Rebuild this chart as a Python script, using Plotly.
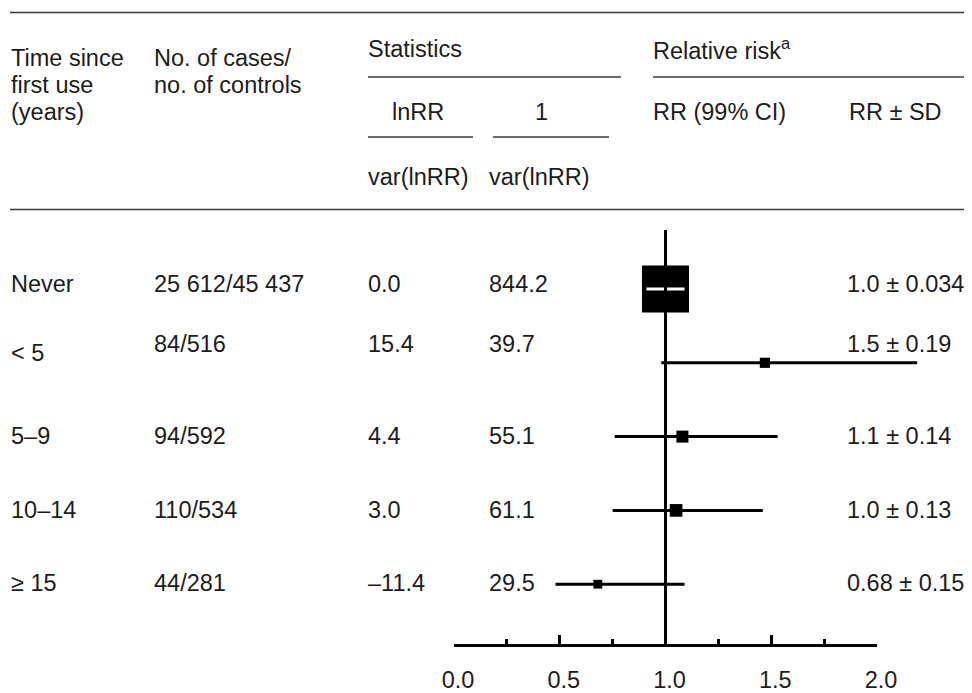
import math
import plotly.graph_objects as go

# ---------------- data ----------------
time_labels = ["Never", "< 5", "5–9", "10–14", "≥ 15"]
cases_controls = ["25 612/45 437", "84/516", "94/592", "110/534", "44/281"]
lnrr_over_var = ["0.0", "15.4", "4.4", "3.0", "–11.4"]
inv_var_text = ["844.2", "39.7", "55.1", "61.1", "29.5"]
inv_var = [844.2, 39.7, 55.1, 61.1, 29.5]
rr_sd_text = ["1.0 ± 0.034", "1.5 ± 0.19", "1.1 ± 0.14", "1.0 ± 0.13", "0.68 ± 0.15"]

rr_point = [1.00, 1.47, 1.08, 1.05, 0.68]
ci_low = [0.91, 0.98, 0.76, 0.75, 0.48]
ci_high = [1.09, 2.19, 1.53, 1.46, 1.09]

axis_ticks = [0.0, 0.5, 1.0, 1.5, 2.0]
axis_ticktext = ["0.0", "0.5", "1.0", "1.5", "2.0"]
axis_minor = [0.25, 0.75, 1.25, 1.75]

# ---------------- layout constants ----------------
W, H = 972, 693
OFF = 8                          # page offset of the plot div
FONT = "Liberation Sans, Arial, Helvetica, sans-serif"
TXT = "#1c1c1c"
FS = 23.5

X0PX, X2PX = 454, 877            # page pixel of RR=0 and RR=2
SCALE = (X2PX - X0PX) / 2.0
ROW0PX, ROWSTEP = 289, 73.8      # page pixel of first row and row spacing
AXIS_Y = 645
VLINE_TOP = 230


def px(x):
    return (x - OFF) / W


def py(y):
    return 1 - (y - OFF) / H


rows = list(range(len(time_labels)))

fig = go.Figure()

# CI lines (black), rows 1..4
for i in rows[1:]:
    fig.add_trace(go.Scatter(x=[ci_low[i], ci_high[i]], y=[i, i], mode="lines",
                             line=dict(color="black", width=3),
                             showlegend=False, hoverinfo="skip"))

# squares sized by weight
sizes = [1.62 * math.sqrt(w) for w in inv_var]
fig.add_trace(go.Scatter(x=rr_point, y=rows, mode="markers",
                         marker=dict(symbol="square", size=sizes, color="black",
                                     opacity=1, line=dict(width=0)),
                         showlegend=False, hoverinfo="skip"))

# Never row CI drawn in white inside its box
fig.add_trace(go.Scatter(x=[ci_low[0], ci_high[0]], y=[0, 0], mode="lines",
                         line=dict(color="white", width=3),
                         showlegend=False, hoverinfo="skip"))

# bottom axis carrier trace
fig.add_trace(go.Scatter(x=[0, 2], y=[None, None], xaxis="x2", yaxis="y",
                         mode="markers", showlegend=False, hoverinfo="skip"))

shapes = []
# reference line at RR = 1
shapes.append(dict(type="line", xref="x", yref="paper", x0=1.0, x1=1.0,
                   y0=py(AXIS_Y), y1=py(VLINE_TOP),
                   line=dict(color="black", width=3), layer="above"))


def rule(x0, x1, y):
    shapes.append(dict(type="line", xref="paper", yref="paper",
                       x0=px(x0), x1=px(x1), y0=py(y), y1=py(y),
                       line=dict(color="#3a3a3a", width=1.3)))


rule(10, 980, 12.5)
rule(10, 980, 209.5)
rule(368, 621, 77)
rule(653, 980, 77)
rule(368, 473, 137)
rule(493, 609, 137)

ann = []


def text(x, y, s, anchor="left", size=FS):
    ann.append(dict(x=px(x), y=py(y), xref="paper", yref="paper", text=s,
                    showarrow=False, xanchor=anchor, yanchor="middle",
                    font=dict(family=FONT, size=size, color=TXT)))


# header
text(9, 58, "Time since")
text(9, 85, "first use")
text(9, 112, "(years)")
text(152, 58, "No. of cases/")
text(152, 85, "no. of controls")
text(366, 49, "Statistics")
text(651, 49, "Relative risk<sup>a</sup>")
text(418, 112, "lnRR", anchor="center")
text(541, 112, "1", anchor="center")
text(366, 177, "var(lnRR)")
text(487, 177, "var(lnRR)")
text(651, 112, "RR (99% CI)")
text(847, 112, "RR ± SD")

# body rows
row_text_y = [284, 344, 436, 510, 583]
label_y = [284, 353, 436, 510, 583]
for i in rows:
    text(9, label_y[i], time_labels[i])
    text(152, row_text_y[i], cases_controls[i])
    text(366, row_text_y[i], lnrr_over_var[i])
    text(487, row_text_y[i], inv_var_text[i])
    text(845, row_text_y[i], rr_sd_text[i])

xr = [(OFF - X0PX) / SCALE, (W + OFF - X0PX) / SCALE]
yr = [(H + OFF - ROW0PX) / ROWSTEP, (OFF - ROW0PX) / ROWSTEP]

fig.update_layout(
    template="none",
    width=W, height=H, autosize=False,
    margin=dict(l=0, r=0, t=0, b=0, pad=0),
    paper_bgcolor="white", plot_bgcolor="rgba(0,0,0,0)",
    showlegend=False,
    xaxis=dict(domain=[0, 1], range=xr, visible=False, fixedrange=True,
               automargin=False),
    yaxis=dict(domain=[0, 1], range=yr, visible=False, fixedrange=True,
               automargin=False),
    xaxis2=dict(domain=[px(X0PX), px(X2PX)], range=[0, 2], anchor="free",
                position=py(AXIS_Y), showline=True, linecolor="black", linewidth=3,
                ticks="inside", ticklen=9, tickwidth=2.5, tickcolor="black",
                tickvals=axis_ticks, ticktext=axis_ticktext,
                tickfont=dict(family=FONT, size=FS, color=TXT),
                ticklabelstandoff=13, ticklabelshift=4, automargin=False,
                minor=dict(tickvals=axis_minor, ticks="inside", ticklen=5,
                           tickwidth=2.5, tickcolor="black", showgrid=False),
                showgrid=False, zeroline=False, fixedrange=True),
    shapes=shapes,
    annotations=ann,
)

fig.write_html("out.html")
